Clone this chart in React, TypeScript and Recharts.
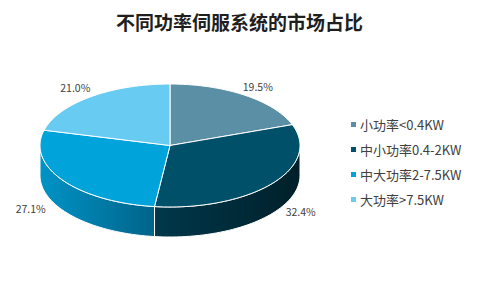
import React from "react";
import { Legend, Pie, PieChart } from "recharts";

const categories = ["小功率<0.4KW", "中小功率0.4-2KW", "中大功率2-7.5KW", "大功率>7.5KW"];
const shares = [19.5, 32.4, 27.1, 21.0];

const topColors = ["#5B8FA6", "#00506A", "#00A3DA", "#67CBF2"];
const sideColors = [
  ["#46768C", "#2E5567"],
  ["#00384B", "#00202A"],
  ["#0093C6", "#00648A"],
  ["#4FB3DA", "#3C93B5"],
];

const data = categories.map((name, i) => ({ name, value: shares[i] }));

const TILT = 0.473;
const DEPTH = 30;
const RAD = Math.PI / 180;
const FONT = "'Noto Sans CJK SC', 'Noto Sans', sans-serif";

function arcPoints(cx: number, cy: number, rx: number, ry: number, from: number, to: number, dy = 0) {
  const pts: string[] = [];
  const steps = Math.max(2, Math.ceil(Math.abs(to - from) / 2));
  for (let k = 0; k <= steps; k++) {
    const a = (from + ((to - from) * k) / steps) * RAD;
    pts.push(`${(cx + rx * Math.cos(a)).toFixed(2)},${(cy - ry * Math.sin(a) + dy).toFixed(2)}`);
  }
  return pts;
}

function Slice3D(props: any) {
  const { cx, cy, outerRadius, startAngle, endAngle, index } = props;
  const rx = outerRadius;
  const ry = outerRadius * TILT;
  const hi = Math.max(startAngle, endAngle);
  const lo = Math.min(startAngle, endAngle);
  // front wall only where the rim faces the viewer
  const sLo = Math.max(lo, -180);
  const sHi = Math.min(hi, 0);
  let side: React.ReactNode = null;
  if (sHi > sLo) {
    const upper = arcPoints(cx, cy, rx, ry, sHi, sLo);
    const lower = arcPoints(cx, cy, rx, ry, sLo, sHi, DEPTH);
    side = (
      <path
        d={`M${upper.join("L")}L${lower.join("L")}Z`}
        fill={`url(#side-${index})`}
        stroke="#fff"
        strokeWidth={1}
        strokeLinejoin="round"
      />
    );
  }
  const top = arcPoints(cx, cy, rx, ry, startAngle, endAngle);
  return (
    <g>
      {side}
      <path
        d={`M${cx},${cy}L${top.join("L")}Z`}
        fill={topColors[index]}
        stroke="#fff"
        strokeWidth={1}
        strokeLinejoin="round"
      />
    </g>
  );
}

function renderLabel(props: any) {
  const { cx, cy, midAngle, outerRadius, percent } = props;
  const c = Math.cos(midAngle * RAD);
  const s = Math.sin(midAngle * RAD);
  const ex = cx + outerRadius * c;
  let ey = cy - outerRadius * TILT * s;
  let x = ex;
  let y = ey;
  if (s >= 0) {
    x = ex + (c > 0 ? -2 : 0);
    y = ey - 9;
  } else {
    ey += DEPTH;
    x = ex + (c > 0 ? 14 : -17);
    y = ey - 2;
  }
  return (
    <text
      x={x}
      y={y}
      textAnchor={c > 0 ? "start" : "end"}
      dominantBaseline="central"
      fill="#404040"
      fontSize={10.5}
      fontFamily={FONT}
    >
      {`${(percent * 100).toFixed(1)}%`}
    </text>
  );
}

function LegendBox() {
  return (
    <div style={{ fontFamily: FONT, fontSize: 13, color: "#404040" }}>
      {categories.map((name, i) => (
        <div key={name} style={{ display: "flex", alignItems: "center", height: 25 }}>
          <span
            style={{ width: 5, height: 5, background: topColors[i], marginRight: 4, display: "inline-block" }}
          />
          <span>{name}</span>
        </div>
      ))}
    </div>
  );
}

export default function App() {
  return (
    <div style={{ position: "absolute", left: 0, top: 0, width: 479, height: 290, background: "#fff" }}>
      <div
        style={{
          position: "absolute",
          top: 8,
          width: 479,
          textAlign: "center",
          fontFamily: FONT,
          fontWeight: 700,
          fontSize: 19,
          color: "#1f1f1f",
          zIndex: 2,
        }}
      >
        不同功率伺服系统的市场占比
      </div>
      <PieChart width={479} height={290} margin={{ top: 0, right: 0, bottom: 0, left: 0 }}>
        <defs>
          {sideColors.map((pair, i) => (
            <linearGradient key={i} id={`side-${i}`} x1="0" y1="0" x2="1" y2="0">
              <stop offset="0%" stopColor={pair[0]} />
              <stop offset="100%" stopColor={pair[1]} />
            </linearGradient>
          ))}
        </defs>
        <Pie
          data={data}
          dataKey="value"
          nameKey="name"
          cx={170}
          cy={145.5}
          outerRadius={130}
          startAngle={90}
          endAngle={-270}
          shape={Slice3D}
          label={renderLabel}
          labelLine={false}
          isAnimationActive={false}
        />
        <Legend
          layout="vertical"
          content={() => <LegendBox />}
          wrapperStyle={{ position: "absolute", left: 351, top: 112, width: 128 }}
        />
      </PieChart>
    </div>
  );
}
